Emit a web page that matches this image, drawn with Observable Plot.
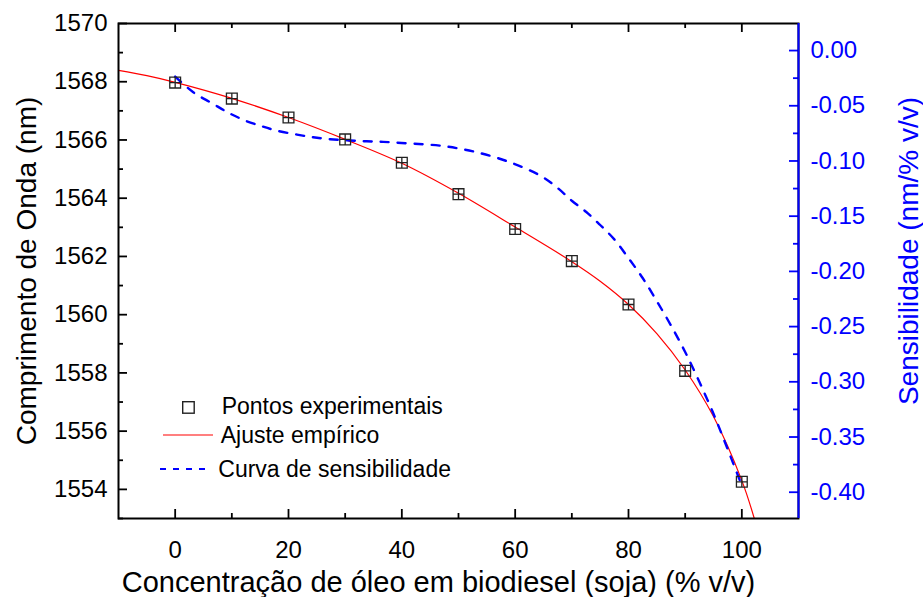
<!DOCTYPE html>
<html><head><meta charset="utf-8">
<script src="https://cdn.jsdelivr.net/npm/d3@7"></script>
<script src="https://cdn.jsdelivr.net/npm/@observablehq/plot@0.6"></script>
<style>
body{margin:0;background:#fff;}
#chart{position:relative;width:923px;height:597px;}
#chart svg{font-family:"Liberation Sans",Arial,sans-serif;}
</style>
</head><body><div id="chart"></div>
<script>
// Experimental points
const concentration = [0,10,20,30,40,50,60,70,80,90,100];
const wavelength = [1567.97,1567.42,1566.77,1566.02,1565.22,1564.14,1562.94,1561.84,1560.35,1558.07,1554.26];
const fitX = [-10,-5,0,10,20,30,40,50,60,70,75,80,85,90,95,100,102.2];
const fitY = [1568.39,1568.21,1567.98,1567.43,1566.77,1566.02,1565.2,1564.17,1563.01,1561.82,1561.15,1560.35,1559.35,1558.1,1556.5,1554.3,1553.0];
// Sensitivity curve (right axis)
const sensX = [0,3.2,6.5,9.35,12.35,15.3,17.9,21.5,24.35,27.35,30.9,33.8,36.7,40.9,47.3,53.2,59.1,64.4,67.5,70,72.5,75,77.5,80,82.5,85,87.5,90,92.5,95,97.5,100];
const sensY = [-0.0236,-0.0378,-0.0477,-0.0562,-0.0634,-0.0686,-0.0725,-0.0761,-0.0785,-0.0803,-0.0815,-0.0822,-0.0827,-0.084,-0.0865,-0.0921,-0.1012,-0.1132,-0.1245,-0.136,-0.146,-0.158,-0.171,-0.188,-0.206,-0.227,-0.249,-0.273,-0.300,-0.329,-0.361,-0.394];
// Ticks
const xTicks = [0,20,40,60,80,100];
const xMinor = [10,30,50,70,90];
const leftTicks = [1554,1556,1558,1560,1562,1564,1566,1568,1570];
const leftMinor = [1553,1555,1557,1559,1561,1563,1565,1567,1569];
const rightTicks = [0,-0.05,-0.10,-0.15,-0.20,-0.25,-0.30,-0.35,-0.40];
const rightMinor = [-0.025,-0.075,-0.125,-0.175,-0.225,-0.275,-0.325,-0.375];
const legendLabels = ["Pontos experimentais","Ajuste empírico","Curva de sensibilidade"];

const W = 923, H = 597, mL = 118, mR = 125, mT = 23, mB = 79;
const pw = W - mL - mR, ph = H - mT - mB;
const leftDomain = [1553, 1570];
const rightDomain = [-0.4238, 0.0245];
const toL = d3.scaleLinear().domain(rightDomain).range(leftDomain);
const toR = toL.invert;
const BLUE = "#0000ff";

const points = concentration.map((c,i)=>({x:c, y:wavelength[i]}));
const fit = fitX.map((x,i)=>({x, y:fitY[i]}));
const sens = sensX.map((x,i)=>({x, y:toL(sensY[i])}));

const squareCross = {
  draw(ctx, size){
    const r = Math.sqrt(size/Math.PI);
    ctx.moveTo(-r,-r); ctx.lineTo(r,-r); ctx.lineTo(r,r); ctx.lineTo(-r,r); ctx.closePath();
    ctx.moveTo(-r,0); ctx.lineTo(r,0);
    ctx.moveTo(0,-r); ctx.lineTo(0,r);
  }
};

const TK = 9, TM = 5;
const plot = Plot.plot({
  width: W, height: H,
  marginLeft: mL, marginRight: mR, marginTop: mT, marginBottom: mB,
  x: {domain: [-10,110], axis: null},
  y: {domain: leftDomain, axis: null},
  style: {fontFamily: '"Liberation Sans",Arial,sans-serif', fontSize: "24px", background: "#fff", overflow: "visible"},
  marks: [
    Plot.line(fit, {x:"x", y:"y", stroke:"#ff0000", strokeWidth:1.2, curve:"catmull-rom", clip:true}),
    Plot.line(sens, {x:"x", y:"y", stroke:BLUE, strokeWidth:2.4, strokeDasharray:"8,9", curve:"catmull-rom", clip:true}),
    Plot.dot(points, {x:"x", y:"y", symbol: squareCross, r:5.4, stroke:"#222", strokeWidth:1.3, fill:"none"}),
    // ticks (inward)
    Plot.tickX(xTicks, {x:d=>d, insetTop: ph-TK, stroke:"black", strokeWidth:1.8}),
    Plot.tickX(xMinor, {x:d=>d, insetTop: ph-TM, stroke:"black", strokeWidth:1.8}),
    Plot.tickX(xTicks, {x:d=>d, insetBottom: ph-TK, stroke:"black", strokeWidth:1.8}),
    Plot.tickX(xMinor, {x:d=>d, insetBottom: ph-TM, stroke:"black", strokeWidth:1.8}),
    Plot.tickY(leftTicks, {y:d=>d, insetRight: pw-TK, stroke:"black", strokeWidth:1.8}),
    Plot.tickY(leftMinor, {y:d=>d, insetRight: pw-TM, stroke:"black", strokeWidth:1.8}),
    Plot.tickY(rightTicks.map(toL), {y:d=>d, insetLeft: pw-TK, stroke:BLUE, strokeWidth:1.8}),
    Plot.tickY(rightMinor.map(toL), {y:d=>d, insetLeft: pw-TM, stroke:BLUE, strokeWidth:1.8}),
    Plot.frame({stroke:"black", strokeWidth:2}),
    Plot.ruleX([110], {stroke:BLUE, strokeWidth:2}),
    // tick labels
    Plot.axisX(xTicks, {tickSize:0, tickPadding:22, tickFormat:d=>String(d), fontSize:24, fill:"black", label:null}),
    Plot.axisY(leftTicks, {tickSize:0, tickPadding:11, tickFormat:d=>String(d), fontSize:24, fill:"black", label:null}),
    Plot.axisY(rightTicks.map(toL), {anchor:"right", tickSize:0, tickPadding:12, fontSize:24, fill:BLUE, label:null,
      tickFormat:d=>{const v=toR(d); return (Math.abs(v)<1e-9?0:v).toFixed(2);}}),
    // titles
    Plot.text(["Concentração de óleo em biodiesel (soja) (% v/v)"], {frameAnchor:"bottom", textAnchor:"middle", lineAnchor:"middle", dx:-20, dy:64, fontSize:29, fill:"black"}),
    Plot.text(["Comprimento de Onda (nm)"], {frameAnchor:"left", textAnchor:"middle", lineAnchor:"middle", rotate:-90, dx:-91, fontSize:28, fill:"black"}),
    Plot.text(["Sensibilidade (nm/% v/v)"], {frameAnchor:"right", textAnchor:"middle", lineAnchor:"middle", rotate:-90, dx:111, dy:-20, fontSize:28, fill:BLUE})
  ]
});
document.getElementById("chart").appendChild(plot);

// Legend inside the plot area
const svg = d3.select(plot);
const g = svg.append("g").attr("font-family",'"Liberation Sans",Arial,sans-serif').attr("font-size",23).attr("text-anchor","start");
g.append("rect").attr("x",182.7).attr("y",401.7).attr("width",11.5).attr("height",11.5)
  .attr("fill","none").attr("stroke","#222").attr("stroke-width",1.4);
g.append("line").attr("x1",163).attr("x2",213).attr("y1",435).attr("y2",435).attr("stroke","#ff0000").attr("stroke-width",1.2);
g.append("line").attr("x1",160).attr("x2",212).attr("y1",469).attr("y2",469).attr("stroke",BLUE).attr("stroke-width",2.2).attr("stroke-dasharray","6,7");
const lx = [221.7,220.7,218.3], ly = [414,443,477];
legendLabels.forEach((t,i)=>g.append("text").attr("x",lx[i]).attr("y",ly[i]).attr("fill","black").text(t));
</script>
</body></html>
